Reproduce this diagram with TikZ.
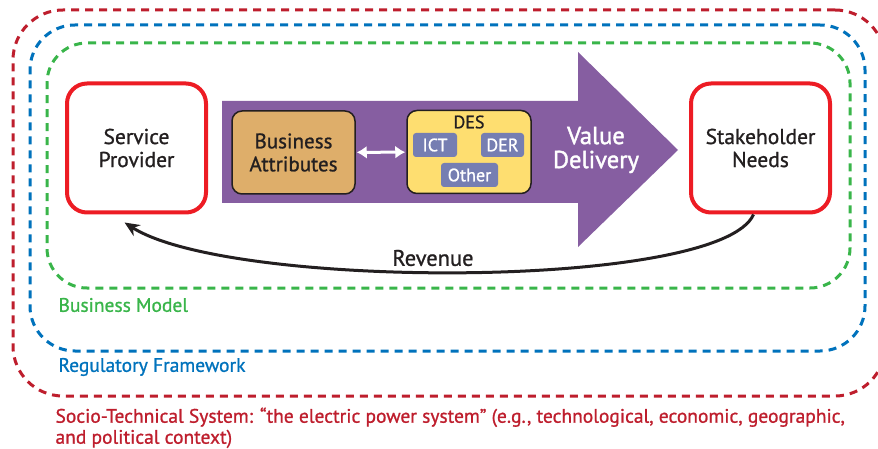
\documentclass[tikz,border=0pt]{standalone}
\usepackage{fontspec}
\setmainfont{PT Sans}
\newfontfamily\semib{PT Sans}[FakeBold=1.0]
\newfontfamily\semibb{PT Sans}[FakeBold=1.6]
\usetikzlibrary{arrows.meta, positioning, calc}
\definecolor{SR}{RGB}{190,30,45}
\definecolor{SB}{RGB}{0,114,188}
\definecolor{SG}{RGB}{57,181,74}
\definecolor{BR}{RGB}{237,28,36}
\definecolor{VP}{RGB}{134,94,161}
\definecolor{TN}{RGB}{222,174,106}
\definecolor{YL}{RGB}{254,222,112}
\definecolor{SL}{RGB}{118,126,178}
\definecolor{DG}{RGB}{35,31,32}

\begin{document}
\begin{tikzpicture}[x=1pt, y=-1pt,
  frame/.style={draw=#1, line width=3pt, dash pattern=on 8pt off 6pt,
                minimum width=0pt, inner sep=0pt},
  actor/.style={draw=BR, line width=4pt, rounded corners=20pt, fill=white,
                minimum width=139pt, minimum height=129pt, align=center,
                text=DG, font=\fontsize{21.5}{23}\semib},
  inbox/.style={draw=DG, line width=1.5pt, rounded corners=10pt, fill=#1,
                minimum width=123pt, minimum height=83pt, align=center,
                text=DG},
  tag/.style={fill=SL, rounded corners=3pt, minimum height=24pt, inner sep=2pt,
              text=white, font=\fontsize{18}{20}\semib},
  lbl/.style={anchor=west, text=#1, font=\fontsize{19.5}{21}\semib},
  rev/.style={-{Stealth[length=15pt, width=13pt]}, draw=DG, line width=3pt}
]
\useasboundingbox (0,0) rectangle (878,449);

% nested context frames
\node[frame=SR, rounded corners=50pt, minimum width=872pt, minimum height=386pt] (sts) at (449,203) {};
\node[frame=SB, rounded corners=45pt, minimum width=835pt, minimum height=326pt] (reg) at (447.5,188) {};
\node[frame=SG, rounded corners=40pt, minimum width=803pt, minimum height=245pt] (bm)  at (448.5,165.5) {};

% value delivery arrow
\fill[VP] (222,101) -- (578,101) -- (578,52) -- (678,150) -- (578,247)
  -- (578,203) -- (222,203) -- cycle;
\node[text=white, align=center, font=\fontsize{24.5}{24}\semibb] (vd) at (596,150)
  {Value\\Delivery};

\node[actor] (sp) at (136.5,148) {Service\\Provider};
\node[actor] (sn) at (760.5,148) {Stakeholder\\Needs};

\node[inbox=TN, font=\fontsize{21}{23}\semib] (ba) at (293.5,152.5)
  {Business\\Attributes};
\node[inbox=YL, minimum width=124pt] (des) at (469,152) {};
\node[text=DG, font=\fontsize{18}{20}\semib] (deslbl) at (469,122) {DES};
\node[tag, minimum width=44pt] (ict) at (435,145) {ICT};
\node[tag, minimum width=43pt] (der) at (502.5,145) {DER};
\node[tag, minimum width=57pt] (oth) at (469.5,175) {Other};

\draw[{Latex[length=10pt,width=13pt]}-{Latex[length=10pt,width=13pt]}, white, line width=3pt,
  shorten <=1pt, shorten >=1pt] (ba) -- (des);

% revenue loop
\draw[rev] ([xshift=-7pt]sn.south) .. controls (720,290) and (230,290)
  .. ([xshift=-12pt, yshift=-8pt]sp.south);
\node[text=DG, font=\fontsize{22.5}{24}\semib] (revlbl) at (433,258) {Revenue};

% frame captions
\node[lbl=SG] (bmlbl)  at (55,305) {Business Model};
\node[lbl=SB] (reglbl) at (55,367) {Regulatory Framework};
\node[anchor=north west, text=SR, align=left, font=\fontsize{19.5}{21}\semib] (stslbl)
  at (52,404) {Socio-Technical System: “the electric power system” (e.g., technological, economic, geographic,\\and political context)};
\end{tikzpicture}
\end{document}
